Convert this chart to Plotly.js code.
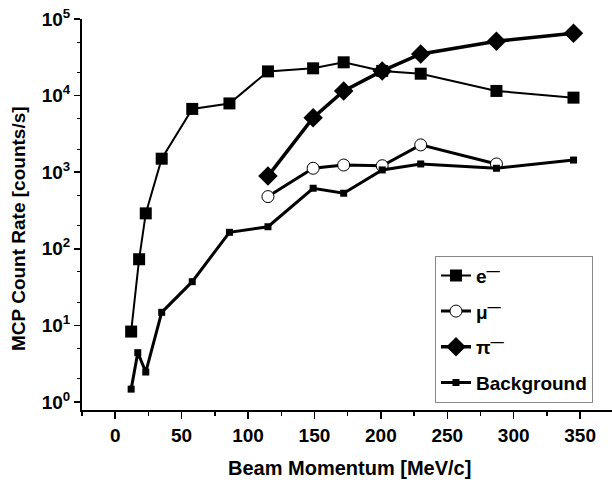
<!DOCTYPE html>
<html>
<head>
<meta charset="utf-8">
<script src="https://cdn.plot.ly/plotly-3.0.1.min.js"></script>
<style>html,body{margin:0;padding:0;background:#fff;}#chart{width:612px;height:483px;}</style>
</head>
<body>
<div id="chart"></div>
<script>
// Data
const eX = [12, 18, 23, 35, 58, 86, 115, 149, 172, 201, 230, 287, 345];
const eY = [8.3, 73, 290, 1500, 6700, 7900, 20700, 22700, 27200, 21000, 19300, 11500, 9400];

const muX = [115, 149, 172, 201, 230, 287];
const muY = [480, 1125, 1240, 1215, 2270, 1280];

const piX = [115, 149, 172, 201, 230, 287, 345];
const piY = [890, 5150, 11500, 21000, 34900, 51200, 65000];

const bgX = [12, 17, 23, 35, 58, 86, 115, 149, 172, 201, 230, 287, 345];
const bgY = [1.47, 4.4, 2.46, 14.8, 37.2, 164, 194, 617, 531, 1070, 1280, 1125, 1440];

const names = ["e<sup>\u2014</sup>", "\u03bc<sup>\u2014</sup>", "\u03c0<sup>\u2014</sup>", "Background"];
const xTickVals = [0, 50, 100, 150, 200, 250, 300, 350];
const yTickVals = [1, 10, 100, 1000, 10000, 100000];
const yTickText = ["10<sup>0</sup>", "10<sup>1</sup>", "10<sup>2</sup>", "10<sup>3</sup>", "10<sup>4</sup>", "10<sup>5</sup>"];
const xTitle = "Beam Momentum [MeV/c]";
const yTitle = "MCP Count Rate [counts/s]";

const FONT = "Arial, 'Liberation Sans', sans-serif";

const traces = [
  {x: eX, y: eY, name: names[0], legendgroup: "a", mode: "lines+markers",
   line: {color: "black", width: 2},
   marker: {symbol: "square", size: 12, color: "black"}},
  {x: muX, y: muY, name: names[1], legendgroup: "b", mode: "lines+markers",
   line: {color: "black", width: 3},
   marker: {symbol: "circle", size: 12, color: "white", line: {color: "black", width: 1}}},
  {x: piX, y: piY, name: names[2], legendgroup: "c", mode: "lines+markers",
   line: {color: "black", width: 3.5},
   marker: {symbol: "diamond", size: 15, color: "black"}},
  {x: bgX, y: bgY, name: names[3], legendgroup: "d", mode: "lines+markers",
   line: {color: "black", width: 3},
   marker: {symbol: "square", size: 7, color: "black"}}
];

const layout = {
  width: 612, height: 483,
  margin: {l: 82, r: 0, t: 19, b: 73},
  paper_bgcolor: "white", plot_bgcolor: "white",
  font: {family: FONT, color: "black"},
  showlegend: true,
  legend: {
    x: 0.666, y: 0.395, xanchor: "left", yanchor: "top",
    bordercolor: "#888", borderwidth: 1, bgcolor: "white",
    font: {family: FONT, size: 19, color: "black", weight: "bold"},
    tracegroupgap: 8, itemwidth: 30
  },
  xaxis: {
    range: [-25, 374],
    tickvals: xTickVals,
    ticks: "outside", ticklen: 7, tickwidth: 1.5, tickcolor: "black",
    minor: {ticks: "outside", ticklen: 4, tickwidth: 1.5, tickcolor: "black", dtick: 25, showgrid: false},
    showline: true, linecolor: "black", linewidth: 2,
    showgrid: false, zeroline: false,
    tickfont: {family: FONT, size: 19, color: "black", weight: "bold"}
  },
  yaxis: {
    type: "log",
    range: [-0.105, 5],
    tickvals: yTickVals,
    ticktext: yTickText,
    ticks: "outside", ticklen: 6, tickwidth: 1.5, tickcolor: "black",
    minor: {ticks: "outside", ticklen: 3, tickwidth: 1, tickcolor: "black", showgrid: false},
    showline: true, linecolor: "black", linewidth: 2,
    showgrid: false, zeroline: false,
    tickfont: {family: FONT, size: 19, color: "black", weight: "bold"}
  },
  annotations: [
    {text: "<b>" + xTitle + "</b>", xref: "paper", yref: "paper", x: 0.5038, y: -0.1483,
     xanchor: "center", yanchor: "middle", showarrow: false,
     font: {family: FONT, size: 20, color: "black"}},
    {text: "<b>" + yTitle + "</b>", xref: "paper", yref: "paper", x: -0.1189, y: 0.4655,
     xanchor: "center", yanchor: "middle", showarrow: false, textangle: -90,
     font: {family: FONT, size: 19, color: "black"}}
  ]
};

Plotly.newPlot("chart", traces, layout, {displayModeBar: false, staticPlot: true});
</script>
</body>
</html>
